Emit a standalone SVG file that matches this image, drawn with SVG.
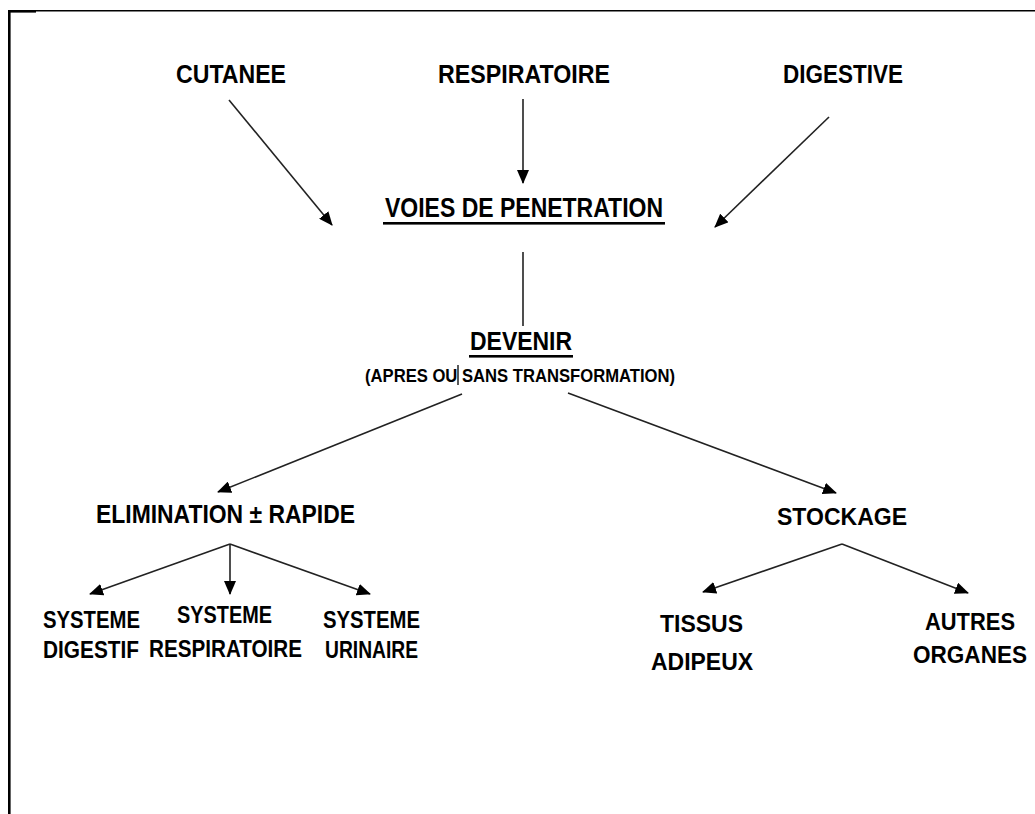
<svg xmlns="http://www.w3.org/2000/svg" width="1035" height="814" viewBox="0 0 1035 814">
<style>
  .t { font-family: "Liberation Sans", Arial, sans-serif; font-weight: bold; fill: #000; }
  .c { stroke: #222; stroke-width: 1.6; fill: none; }
  .a { marker-end: url(#ah); }
</style>
<defs>
  <marker id="ah" markerUnits="userSpaceOnUse" markerWidth="14" markerHeight="12" viewBox="0 0 14 12" refX="13" refY="6" orient="auto">
    <path d="M0,0 L14,6 L0,12 z" fill="#000"/>
  </marker>
</defs>
<rect width="1035" height="814" fill="#fff"/>
<g id="frame">
  <line x1="8" y1="10.7" x2="1035" y2="10.7" stroke="#000" stroke-width="1.4"/>
  <rect x="8" y="10" width="28" height="2.6" fill="#000"/>
  <rect x="8" y="10" width="2.6" height="804" fill="#000"/>
</g>
<g id="connectors">
  <line class="c a" x1="229" y1="100" x2="332" y2="225"/>
  <line class="c a" x1="523" y1="99" x2="523" y2="183"/>
  <line class="c a" x1="829" y1="117" x2="715" y2="227"/>
  <line class="c" x1="523" y1="252" x2="523" y2="326"/>
  <line class="c a" x1="462" y1="394" x2="218" y2="492"/>
  <line class="c a" x1="568" y1="393" x2="836" y2="493"/>
  <line class="c a" x1="230" y1="544" x2="90" y2="594"/>
  <line class="c a" x1="230" y1="544" x2="230" y2="594"/>
  <line class="c a" x1="230" y1="544" x2="370" y2="594"/>
  <line class="c a" x1="842" y1="544" x2="703" y2="592"/>
  <line class="c a" x1="842" y1="544" x2="968" y2="593"/>
</g>
<g id="cutanee"><text class="t" x="176" y="83" font-size="25" textLength="110" lengthAdjust="spacingAndGlyphs">CUTANEE</text></g>
<g id="respiratoire"><text class="t" x="438" y="83" font-size="25" textLength="172" lengthAdjust="spacingAndGlyphs">RESPIRATOIRE</text></g>
<g id="digestive"><text class="t" x="783" y="83" font-size="25" textLength="120" lengthAdjust="spacingAndGlyphs">DIGESTIVE</text></g>
<g id="voies">
  <text class="t" x="385" y="217" font-size="27" textLength="278" lengthAdjust="spacingAndGlyphs">VOIES DE PENETRATION</text>
  <rect x="383" y="222" width="282" height="2.6" fill="#000"/>
</g>
<g id="devenir">
  <text class="t" x="470" y="350" font-size="26" textLength="102" lengthAdjust="spacingAndGlyphs">DEVENIR</text>
  <rect x="469" y="355" width="104" height="2.6" fill="#000"/>
  <text class="t" x="365" y="382" font-size="18" textLength="310" lengthAdjust="spacingAndGlyphs">(APRES OU SANS TRANSFORMATION)</text>
  <line x1="458" y1="365" x2="458" y2="385" stroke="#000" stroke-width="1.3"/>
</g>
<g id="elimination"><text class="t" x="96" y="523" font-size="25" textLength="259" lengthAdjust="spacingAndGlyphs">ELIMINATION ± RAPIDE</text></g>
<g id="stockage"><text class="t" x="777" y="525" font-size="24" textLength="130" lengthAdjust="spacingAndGlyphs">STOCKAGE</text></g>
<g id="sys-digestif">
  <text class="t" x="43" y="628" font-size="24" textLength="97" lengthAdjust="spacingAndGlyphs">SYSTEME</text>
  <text class="t" x="43" y="658" font-size="24" textLength="96" lengthAdjust="spacingAndGlyphs">DIGESTIF</text>
</g>
<g id="sys-respiratoire">
  <text class="t" x="177" y="623" font-size="24" textLength="95" lengthAdjust="spacingAndGlyphs">SYSTEME</text>
  <text class="t" x="149" y="657" font-size="24" textLength="153" lengthAdjust="spacingAndGlyphs">RESPIRATOIRE</text>
</g>
<g id="sys-urinaire">
  <text class="t" x="323" y="628" font-size="24" textLength="97" lengthAdjust="spacingAndGlyphs">SYSTEME</text>
  <text class="t" x="325" y="658" font-size="24" textLength="93" lengthAdjust="spacingAndGlyphs">URINAIRE</text>
</g>
<g id="tissus">
  <text class="t" x="660" y="632" font-size="24" textLength="83" lengthAdjust="spacingAndGlyphs">TISSUS</text>
  <text class="t" x="651" y="670" font-size="24" textLength="102" lengthAdjust="spacingAndGlyphs">ADIPEUX</text>
</g>
<g id="autres">
  <text class="t" x="925" y="630" font-size="24" textLength="90" lengthAdjust="spacingAndGlyphs">AUTRES</text>
  <text class="t" x="913" y="663" font-size="24" textLength="114" lengthAdjust="spacingAndGlyphs">ORGANES</text>
</g>
</svg>
